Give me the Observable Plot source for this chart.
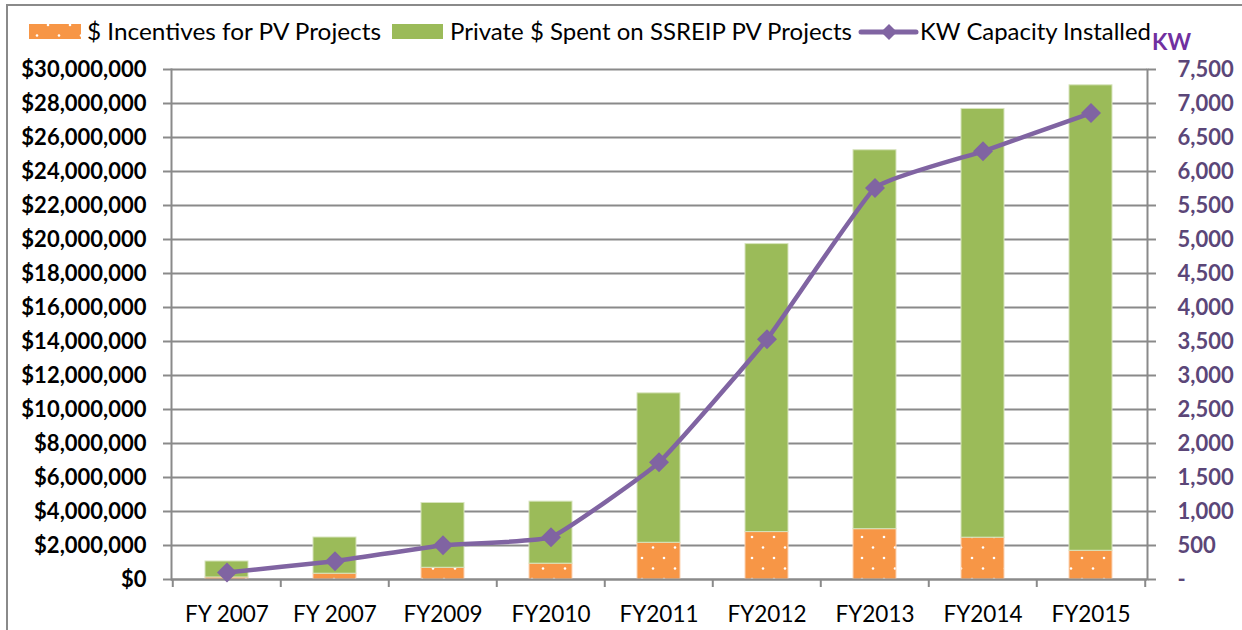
<!DOCTYPE html>
<html>
<head>
<meta charset="utf-8">
<script src="https://cdn.jsdelivr.net/npm/d3@7"></script>
<script src="https://cdn.jsdelivr.net/npm/@observablehq/plot@0.6"></script>
<style>
  html, body { margin: 0; padding: 0; background: #fff; }
  #wrap { position: relative; width: 1242px; height: 630px; overflow: hidden; font-family: Lato, "Open Sans", sans-serif; }
  #legend { position: absolute; left: 0; top: 0; }
  #chart { position: absolute; left: 0; top: 50px; }
  #border { position: absolute; left: 6px; top: 4px; width: 1300px; height: 700px; border-top: 2px solid #8a8a8a; border-left: 2px solid #8a8a8a; pointer-events: none; }
</style>
</head>
<body>
<div id="wrap">
  <svg id="legend" width="1242" height="60"></svg>
  <div id="chart"></div>
  <div id="border"></div>
</div>
<script>
// ---- data ----
const categories = ["FY 2007", "FY 2007", "FY2009", "FY2010", "FY2011", "FY2012", "FY2013", "FY2014", "FY2015"];
const incentives = [120000, 340000, 690000, 930000, 2160000, 2790000, 2960000, 2460000, 1690000];
const privateSpent = [940000, 2130000, 3810000, 3650000, 8790000, 16940000, 22290000, 25220000, 27380000];
const kwInstalled = [104, 270, 505, 622, 1723, 3534, 5759, 6297, 6860];
const leftTicks = d3.range(0, 30000001, 2000000);
const rightTicks = d3.range(0, 7501, 500);
const seriesNames = ["$ Incentives for PV Projects", "Private $ Spent on SSREIP PV Projects", "KW Capacity Installed"];

const KW_FACTOR = 30000000 / 7500; // right axis maps onto the left axis range

const rows = categories.map((c, i) => ({
  i, label: c,
  inc: incentives[i],
  priv: privateSpent[i],
  kw: kwInstalled[i]
}));

const W = 1242, H = 580, ML = 171, MR = 95, MT = 19, MB = 51;
const step = (W - ML - MR) / categories.length;
const GRID = "#8a8a8a";
const PURPLE = "#8064a2";
const GREEN = "#9bbb59";
const ORANGE = "#f79646";
const AXISPURPLE = "#5b4678";

const fmtMoney = v => "$" + d3.format(",")(v);
const fmtKw = v => v === 0 ? "-" : d3.format(",")(v);

const chart = Plot.plot({
  width: W, height: H,
  marginLeft: ML, marginRight: MR, marginTop: MT, marginBottom: MB,
  style: { fontFamily: "Lato, 'Open Sans', sans-serif", background: "white", overflow: "visible" },
  x: { type: "band", domain: d3.range(categories.length), paddingInner: 0.6, paddingOuter: 0.3, axis: null, label: null },
  y: { domain: [0, 30000000], axis: null, label: null },
  marks: [
    Plot.gridY(leftTicks, { stroke: GRID, strokeOpacity: 1, strokeWidth: 2 }),
    Plot.barY(rows, { x: "i", y1: 0, y2: "inc", fill: "url(#dots)", stroke: "#fbd3b4", strokeWidth: 1 }),
    Plot.barY(rows, { x: "i", y1: "inc", y2: d => d.inc + d.priv, fill: GREEN, stroke: "#d7e4bd", strokeWidth: 1 }),
    Plot.frame({ anchor: "left", stroke: GRID, strokeWidth: 2 }),
    Plot.frame({ anchor: "right", stroke: GRID, strokeWidth: 2 }),
    Plot.ruleY([0], { stroke: GRID, strokeWidth: 2 }),
    // left axis
    Plot.axisY({ anchor: "left", label: null, ticks: leftTicks, tickSize: 8, text: null, stroke: GRID, strokeWidth: 2 }),
    Plot.axisY({ anchor: "left", label: null, ticks: leftTicks, tickSize: 0, tickPadding: 25, tickFormat: fmtMoney,
                 fontSize: 22, fontWeight: "bold", fill: "#000" }),
    // right axis (KW)
    Plot.axisY({ anchor: "right", label: null, ticks: rightTicks.map(v => v * KW_FACTOR), tickSize: 8, text: null, stroke: GRID, strokeWidth: 2 }),
    Plot.axisY({ anchor: "right", label: null, ticks: rightTicks.map(v => v * KW_FACTOR), tickSize: 0, tickPadding: 30,
                 tickFormat: v => fmtKw(Math.round(v / KW_FACTOR)), fontSize: 22, fontWeight: "bold", fill: AXISPURPLE }),
    // x axis: tick marks at category boundaries, labels at centres
    Plot.axisX({ anchor: "bottom", label: null, ticks: d3.range(categories.length), tickSize: 8, text: null, dx: -step / 2, stroke: GRID, strokeWidth: 2 }),
    Plot.axisX({ anchor: "bottom", label: null, ticks: [categories.length - 1], tickSize: 8, text: null, dx: step / 2, stroke: GRID, strokeWidth: 2 }),
    Plot.axisX({ anchor: "bottom", label: null, ticks: d3.range(categories.length), tickSize: 0, tickPadding: 27,
                 tickFormat: i => categories[i], fontSize: 22.5, fill: "#000" }),
    // KW line (lightly smoothed, like the spreadsheet's smoothed line)
    Plot.line(rows, { x: "i", y: d => d.kw * KW_FACTOR, stroke: PURPLE, strokeWidth: 4.5, curve: "cardinal", tension: 0.65 }),
    Plot.dot(rows, { x: "i", y: d => d.kw * KW_FACTOR, symbol: "diamond2", r: 9, fill: PURPLE, stroke: "none" })
  ]
});

function addDots(svg, id) {
  const defs = svg.insert("defs", ":first-child");
  const p = defs.append("pattern").attr("id", id).attr("patternUnits", "userSpaceOnUse")
    .attr("width", 22).attr("height", 21);
  p.append("rect").attr("width", 22).attr("height", 21).attr("fill", ORANGE);
  p.append("circle").attr("cx", 4).attr("cy", 4).attr("r", 1.3).attr("fill", "white");
  p.append("circle").attr("cx", 15).attr("cy", 14.5).attr("r", 1.3).attr("fill", "white");
}
addDots(d3.select(chart), "dots");
document.getElementById("chart").appendChild(chart);

// ---- legend ----
const lg = d3.select("#legend");
addDots(lg, "dots2");
lg.append("rect").attr("x", 29).attr("y", 24).attr("width", 52).attr("height", 15).attr("fill", "url(#dots2)");
lg.append("text").attr("x", 87).attr("y", 39.5).attr("font-size", 23).attr("textLength", 294)
  .attr("lengthAdjust", "spacingAndGlyphs").text(seriesNames[0]);
lg.append("rect").attr("x", 392).attr("y", 24).attr("width", 51).attr("height", 15).attr("fill", GREEN);
lg.append("text").attr("x", 450).attr("y", 39.5).attr("font-size", 23).attr("textLength", 402)
  .attr("lengthAdjust", "spacingAndGlyphs").text(seriesNames[1]);
lg.append("line").attr("x1", 861).attr("x2", 916).attr("y1", 32).attr("y2", 32)
  .attr("stroke", PURPLE).attr("stroke-width", 5).attr("stroke-linecap", "round");
lg.append("path").attr("d", "M889,24 L897,32 L889,40 L881,32 Z").attr("fill", PURPLE);
lg.append("text").attr("x", 920).attr("y", 39.5).attr("font-size", 23).attr("textLength", 231)
  .attr("lengthAdjust", "spacingAndGlyphs").text(seriesNames[2]);
lg.append("text").attr("x", 1152).attr("y", 50).attr("font-size", 22).attr("font-weight", "bold")
  .attr("fill", "#7030a0").attr("textLength", 39).attr("lengthAdjust", "spacingAndGlyphs").text("KW");
lg.append("line").attr("x1", 1148).attr("x2", 1192).attr("y1", 54).attr("y2", 54)
  .attr("stroke", "#7030a0").attr("stroke-width", 1.5);
lg.selectAll("text").attr("font-family", "Lato, 'Open Sans', sans-serif");
</script>
</body>
</html>
